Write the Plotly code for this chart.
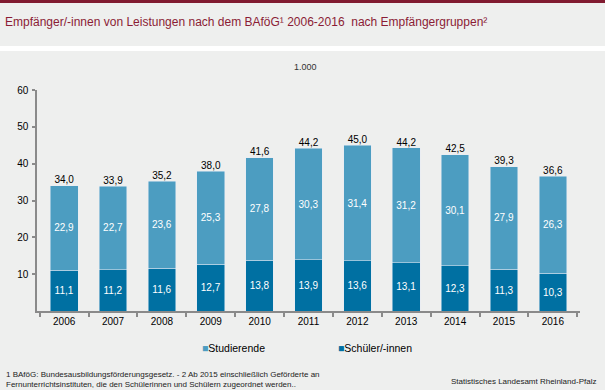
import plotly.graph_objects as go

# ---- data ----
years = ["2006", "2007", "2008", "2009", "2010", "2011", "2012", "2013", "2014", "2015", "2016"]
schueler = [11.1, 11.2, 11.6, 12.7, 13.8, 13.9, 13.6, 13.1, 12.3, 11.3, 10.3]
studierende = [22.9, 22.7, 23.6, 25.3, 27.8, 30.3, 31.4, 31.2, 30.1, 27.9, 26.3]
totals = [34.0, 33.9, 35.2, 38.0, 41.6, 44.2, 45.0, 44.2, 42.5, 39.3, 36.6]
series_names = ["Studierende", "Schüler/-innen"]
y_ticks = [10, 20, 30, 40, 50, 60]

title = "Empfänger/-innen von Leistungen nach dem BAföG¹ 2006-2016  nach Empfängergruppen²"
unit = "1.000"
footnote = ("1 BAföG: Bundesausbildungsförderungsgesetz. - 2 Ab 2015 einschließlich Geförderte an<br>"
            "Fernunterrichtsinstituten, die den Schülerinnen und Schülern zugeordnet werden..")
source = "Statistisches Landesamt Rheinland-Pfalz"

# ---- style ----
W, H = 605, 390
L, R, T, B = 37, 25, 90, 79
PW, PH = W - L - R, H - T - B
BG = "#EEEFEE"
C_STUD = "#4C9DC1"
C_SCH = "#0070A2"
AXIS = "#8A8A8A"
FONT = "Liberation Sans, Arial, sans-serif"


def px(x):
    return (x - L) / PW


def py(y):
    return (H - B - y) / PH


fig = go.Figure()
fig.add_trace(go.Bar(
    x=years, y=schueler, name=series_names[1], marker_color=C_SCH,
    texttemplate="%{y:.1f}", textposition="inside", insidetextanchor="middle",
    textangle=0, constraintext="none",
    insidetextfont=dict(color="white", size=10, family=FONT), showlegend=False,
))
fig.add_trace(go.Bar(
    x=years, y=studierende, name=series_names[0], marker_color=C_STUD,
    texttemplate="%{y:.1f}", textposition="inside", insidetextanchor="middle",
    textangle=0, constraintext="none",
    insidetextfont=dict(color="white", size=10, family=FONT), showlegend=False,
))
fig.add_trace(go.Scatter(
    x=years, y=totals, mode="text", texttemplate="%{y:.1f}",
    textposition="top center", textfont=dict(color="black", size=10, family=FONT),
    showlegend=False, hoverinfo="skip", cliponaxis=False,
))

shapes = [
    dict(type="rect", xref="paper", yref="paper", x0=px(0), x1=px(W), y0=py(3), y1=py(0),
         fillcolor="#801B30", line_width=0, layer="below"),
    dict(type="rect", xref="paper", yref="paper", x0=px(0), x1=px(W), y0=py(51), y1=py(46),
         fillcolor="white", line_width=0, layer="below"),
]

annotations = [
    dict(text=title, x=px(3), y=py(22), xref="paper", yref="paper", xanchor="left",
         yanchor="middle", showarrow=False, font=dict(size=12, color="#8B1C35", family=FONT)),
    dict(text=unit, x=px(305), y=py(67), xref="paper", yref="paper", xanchor="center",
         yanchor="middle", showarrow=False, font=dict(size=9, color="#333333", family=FONT)),
    dict(text=f"<span style='color:{C_STUD}'>■</span>{series_names[0]}", x=px(200), y=py(348),
         xref="paper", yref="paper", xanchor="left", yanchor="middle", showarrow=False,
         font=dict(size=10.5, color="black", family=FONT)),
    dict(text=f"<span style='color:{C_SCH}'>■</span>{series_names[1]}", x=px(336), y=py(348),
         xref="paper", yref="paper", xanchor="left", yanchor="middle", showarrow=False,
         font=dict(size=10.5, color="black", family=FONT)),
    dict(text=footnote, x=px(4), y=py(379), xref="paper", yref="paper", xanchor="left",
         yanchor="middle", align="left", showarrow=False,
         font=dict(size=8, color="#222222", family=FONT)),
    dict(text=source, x=px(598), y=py(381), xref="paper", yref="paper", xanchor="right",
         yanchor="middle", align="right", showarrow=False,
         font=dict(size=8, color="#222222", family=FONT)),
]

fig.update_layout(
    width=W, height=H, autosize=False,
    margin=dict(l=L, r=R, t=T, b=B, pad=0),
    paper_bgcolor=BG, plot_bgcolor=BG,
    barmode="stack", bargap=0.433,
    separators=",.",
    font=dict(family=FONT, size=10, color="black"),
    shapes=shapes, annotations=annotations,
    showlegend=False,
    xaxis=dict(showline=True, linecolor=AXIS, linewidth=1.5, ticks="outside",
               tickson="boundaries", ticklen=4, tickcolor=AXIS, tickwidth=1.5,
               showgrid=False, zeroline=False, tickfont=dict(size=10, color="black")),
    yaxis=dict(range=[0, 60], tickvals=y_ticks, showline=True, linecolor=AXIS, linewidth=1.5,
               ticks="outside", ticklen=3, tickcolor=AXIS, tickwidth=1.5, showgrid=False,
               zeroline=False, tickfont=dict(size=10, color="black"), ticklabelstandoff=2),
)

fig.write_html(
    "out.html",
    config={"displayModeBar": False},
    post_script="document.body.style.margin='0';document.body.style.overflow='hidden';",
)
